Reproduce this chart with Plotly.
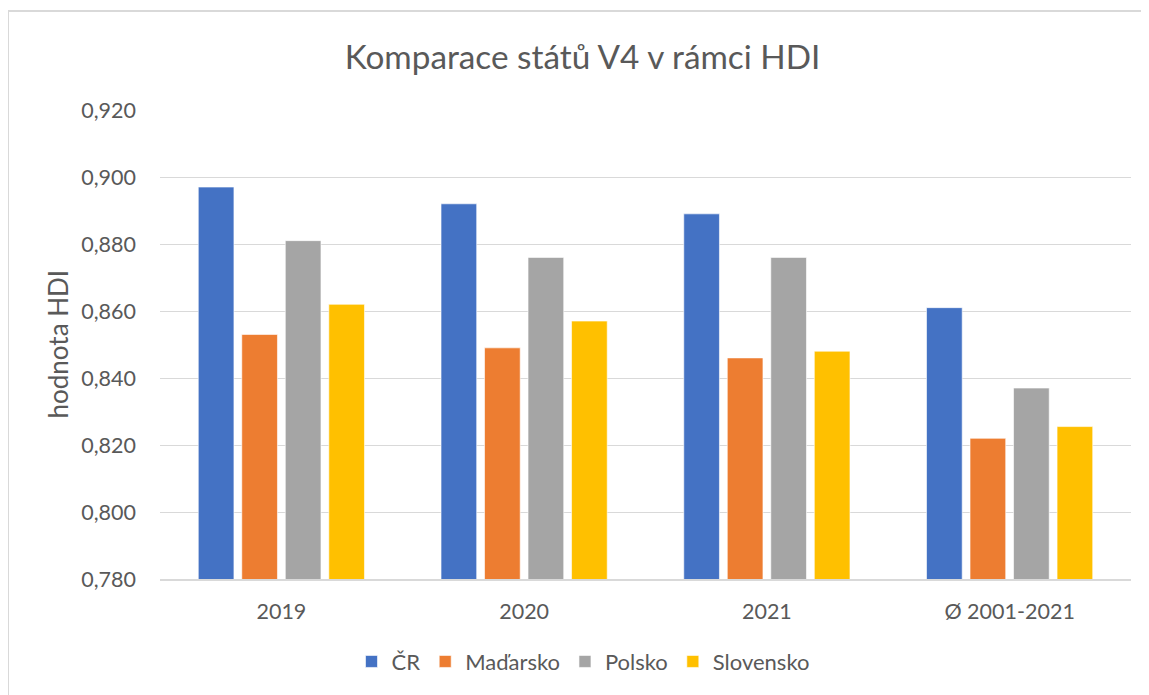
import plotly.graph_objects as go

categories = ["2019", "2020", "2021", "Ø 2001-2021"]
series_names = ["ČR", "Maďarsko", "Polsko", "Slovensko"]
cr = [0.897, 0.892, 0.889, 0.861]
madarsko = [0.853, 0.849, 0.846, 0.822]
polsko = [0.881, 0.876, 0.876, 0.837]
slovensko = [0.862, 0.857, 0.848, 0.8255]
colors = ["#4472C4", "#ED7D31", "#A5A5A5", "#FFC000"]

# the page body has an 8px margin, so the figure starts at (8, 8)
OFF = 8
W, H = 1149 - OFF, 695 - OFF
L, R, T = 160 - OFF, 18, 110 - OFF
B = H - (579.3 - OFF)
pw = W - L - R
ph = H - T - B

font_family = "Lato, 'Open Sans', sans-serif"
text_color = "#595959"

fig = go.Figure()
for name, vals, col in zip(series_names, [cr, madarsko, polsko, slovensko], colors):
    fig.add_trace(go.Bar(
        x=categories, y=vals, name=name,
        marker=dict(color=col, line=dict(color="rgba(255,255,255,0.6)", width=1)),
    ))

def px_to_paper_x(px):  # px in screenshot coords
    return (px - OFF - L) / pw

def px_to_paper_y(py):
    return (H - B - (py - OFF)) / ph

fig.update_layout(
    width=W, height=H,
    margin=dict(l=L, r=R, t=T, b=B, autoexpand=False),
    paper_bgcolor="white", plot_bgcolor="white",
    separators=", ",
    barmode="group", bargap=0.283, bargroupgap=0.18,
    font=dict(family=font_family, color=text_color, size=21),
    title=dict(text="Komparace států V4 v rámci HDI", x=(582.5 - OFF) / W, xanchor="center",
               y=1 - (57 - OFF) / H, yanchor="middle",
               font=dict(size=33.3, color=text_color, family=font_family)),
    legend=dict(orientation="h", x=px_to_paper_x(583), xanchor="center",
                y=px_to_paper_y(662), yanchor="middle",
                font=dict(size=22, color=text_color), itemwidth=30,
                traceorder="normal"),
    showlegend=True,
)

fig.update_yaxes(
    range=[0.78, 0.92], dtick=0.02, tick0=0.78, tickformat=".3f",
    showgrid=True, gridcolor="#d9d9d9", gridwidth=1.3,
    zeroline=False, showline=False, ticks="",
    ticklabelstandoff=23,
    tickfont=dict(size=21.5, color=text_color),
)
fig.update_xaxes(
    showgrid=False, showline=True, linecolor="#d9d9d9", linewidth=1.5,
    ticks="", ticklabelstandoff=12,
    tickfont=dict(size=21.5, color=text_color),
)

fig.add_annotation(text="hodnota HDI", textangle=-90, showarrow=False,
                   xref="paper", yref="paper", x=px_to_paper_x(57), y=0.5,
                   xanchor="center", yanchor="middle",
                   font=dict(size=26, color=text_color, family=font_family))

# chart area border (Excel-like), only left and top edges visible
fig.add_shape(type="line", xref="paper", yref="paper",
              x0=px_to_paper_x(8), x1=px_to_paper_x(1170),
              y0=px_to_paper_y(11), y1=px_to_paper_y(11),
              line=dict(color="#d9d9d9", width=2))
fig.add_shape(type="line", xref="paper", yref="paper",
              x0=px_to_paper_x(8), x1=px_to_paper_x(8),
              y0=px_to_paper_y(11), y1=px_to_paper_y(720),
              line=dict(color="#d9d9d9", width=2))

fig.write_html("out.html")
